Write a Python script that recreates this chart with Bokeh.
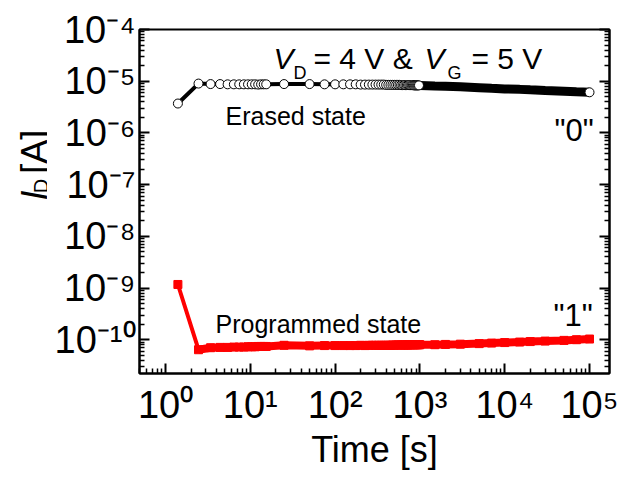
import math
from bokeh.plotting import figure
from bokeh.layouts import row
from bokeh.models import (LogAxis, Label, CustomJSTickFormatter, FixedTicker, Range1d)
from bokeh.embed import file_html
from bokeh.resources import INLINE

# ---------------- data ----------------
time_s = [1.4, 2.45, 3.4, 4.4, 5.4, 6.4, 7.4, 8.4, 9.4, 10.4, 11.4, 12.4, 13.4, 14.4, 15.4,
          25, 50,
          75, 100, 125, 150, 175, 200, 225, 250, 275, 300,
          325, 350, 375, 400, 425, 450, 475, 500, 525, 550,
          575, 600, 625, 650, 675, 700, 725, 750, 775, 800,
          825, 850, 875, 900, 925, 950, 975, 1000,
          1500, 2000, 3000, 5000, 7000, 10000, 15000, 20000, 30000, 50000, 70000, 100000]

erased_A = [3.7e-6, 9.0e-6,
            8.8e-6, 8.8e-6, 8.7e-6, 8.7e-6, 8.7e-6, 8.7e-6, 8.7e-6, 8.7e-6, 8.7e-6, 8.6e-6, 8.7e-6, 8.7e-6, 8.7e-6,
            8.8e-6, 8.8e-6,
            8.7e-6, 8.7e-6, 8.7e-6, 8.7e-6, 8.7e-6, 8.6e-6, 8.6e-6, 8.6e-6, 8.6e-6, 8.6e-6,
            8.6e-6, 8.6e-6, 8.6e-6, 8.5e-6, 8.5e-6, 8.5e-6, 8.5e-6, 8.5e-6, 8.5e-6, 8.5e-6,
            8.5e-6, 8.4e-6, 8.4e-6, 8.4e-6, 8.4e-6, 8.4e-6, 8.4e-6, 8.4e-6, 8.4e-6, 8.4e-6,
            8.4e-6, 8.3e-6, 8.3e-6, 8.3e-6, 8.3e-6, 8.3e-6, 8.3e-6, 8.3e-6,
            8.1e-6, 8.0e-6, 7.8e-6, 7.5e-6, 7.3e-6, 7.1e-6, 6.95e-6, 6.8e-6, 6.6e-6, 6.4e-6, 6.25e-6, 6.1e-6]

programmed_A = [1.17e-9, 6.4e-11,
                7.0e-11, 7.1e-11, 7.1e-11, 7.2e-11, 7.2e-11, 7.2e-11, 7.3e-11, 7.3e-11, 7.3e-11, 7.4e-11, 7.4e-11, 7.4e-11, 7.4e-11,
                7.8e-11, 7.6e-11,
                7.7e-11, 7.7e-11, 7.7e-11, 7.7e-11, 7.7e-11, 7.8e-11, 7.7e-11, 7.8e-11, 7.8e-11, 7.8e-11,
                7.8e-11, 7.8e-11, 7.8e-11, 7.8e-11, 7.8e-11, 7.8e-11, 7.9e-11, 7.8e-11, 7.9e-11, 7.9e-11,
                7.9e-11, 7.9e-11, 7.9e-11, 7.9e-11, 7.9e-11, 7.9e-11, 7.9e-11, 8.0e-11, 7.9e-11, 8.0e-11,
                8.0e-11, 8.0e-11, 8.0e-11, 8.0e-11, 8.0e-11, 8.0e-11, 8.0e-11, 8.0e-11,
                8.0e-11, 8.1e-11, 8.2e-11, 8.4e-11, 8.6e-11, 8.8e-11, 9.0e-11, 9.2e-11, 9.4e-11, 9.7e-11, 1.0e-10, 1.03e-10]

x_ticks = [1, 10, 100, 1000, 10000, 100000]
y_ticks = [1e-10, 1e-9, 1e-8, 1e-7, 1e-6, 1e-5, 1e-4]

# ---------------- layout ----------------
W, H = 619, 479
LW = 47                                  # width of the strip holding the y-axis title
FL, FR, FT, FB = 139, 609, 29, 373       # frame edges in page pixels
x_lo, x_hi = 0.4935, 1.721e5
y_lo, y_hi = 2.22e-11, 1e-4

FONT = "Liberation Sans"

p = figure(width=W - LW, height=H, x_axis_type="log", y_axis_type="log",
           x_range=Range1d(x_lo, x_hi), y_range=Range1d(y_lo, y_hi),
           output_backend="svg", toolbar_location=None,
           min_border_left=FL - LW, min_border_right=W - FR, min_border_top=FT, min_border_bottom=H - FB)
p.xgrid.visible = False
p.ygrid.visible = False
p.outline_line_color = "black"
p.outline_line_width = 2
p.background_fill_color = "white"
p.border_fill_color = "white"

sup_code = """
const m = {"-": "\u207b", "0": "\u2070", "1": "\u00b9", "2": "\u00b2", "3": "\u00b3",
           "4": "\u2074", "5": "\u2075", "6": "\u2076", "7": "\u2077", "8": "\u2078", "9": "\u2079"};
const e = Math.round(Math.log10(tick));
return "10" + String(e).split("").map(c => m[c]).join("");
"""

def minor_list(ticks):
    out = []
    for t in ticks + [ticks[0] / 10]:
        for k in range(2, 10):
            out.append(t * k)
    return out

xt = FixedTicker(ticks=x_ticks, minor_ticks=minor_list(x_ticks))
yt = FixedTicker(ticks=y_ticks, minor_ticks=minor_list(y_ticks))

def style_axis(ax, show_labels=True):
    ax.major_tick_in = 10
    ax.major_tick_out = 0
    ax.minor_tick_in = 5
    ax.minor_tick_out = 0
    ax.axis_line_width = 2
    ax.major_tick_line_width = 2
    ax.minor_tick_line_width = 1.5
    ax.axis_line_color = "black"
    ax.major_tick_line_color = "black"
    ax.minor_tick_line_color = "black"
    ax.major_label_text_font = FONT
    ax.major_label_text_color = "black"
    if show_labels:
        ax.major_label_text_font_size = "38px"
    else:
        ax.major_label_text_font_size = "1px"
        ax.major_label_text_alpha = 0
        ax.major_label_standoff = 0

p.xaxis.ticker = xt
p.yaxis.ticker = yt
p.xaxis.formatter = CustomJSTickFormatter(code=sup_code)
p.yaxis.formatter = CustomJSTickFormatter(code=sup_code)
for ax in p.xaxis + p.yaxis:
    style_axis(ax)
p.xaxis.major_label_standoff = 10
p.yaxis.major_label_standoff = 4
p.xaxis.axis_label = "Time [s]"
p.xaxis.axis_label_text_font = FONT
p.xaxis.axis_label_text_font_size = "36px"
p.xaxis.axis_label_text_font_style = "normal"
p.xaxis.axis_label_text_color = "black"
p.xaxis.axis_label_standoff = 0

ry = LogAxis(ticker=FixedTicker(ticks=y_ticks, minor_ticks=minor_list(y_ticks)),
             formatter=CustomJSTickFormatter(code=sup_code))
style_axis(ry, show_labels=False)
p.add_layout(ry, "right")

# ---------------- series ----------------
k1000 = time_s.index(1000)

# programmed (red)
p.line(time_s, programmed_A, line_color="#ff0000", line_width=4)
p.line(time_s[1:], programmed_A[1:], line_color="#ff0000", line_width=8)
p.scatter(time_s, programmed_A, marker="square", size=8, fill_color="#ff0000", line_color="#ff0000")

# erased (black)
p.line(time_s, erased_A, line_color="black", line_width=4)
p.line(time_s[k1000:], erased_A[k1000:], line_color="black", line_width=9)
p.scatter(time_s[:k1000] + time_s[-1:], erased_A[:k1000] + erased_A[-1:], marker="circle", size=9,
          fill_color="white", line_color="black", line_width=1)

# ---------------- texts inside the plot ----------------
lx0, lx1 = math.log10(x_lo), math.log10(x_hi)
ly0, ly1 = math.log10(y_lo), math.log10(y_hi)

def X(px):
    return 10 ** (lx0 + (px - FL) / (FR - FL) * (lx1 - lx0))

def Y(py):
    return 10 ** (ly1 - (py - FT) / (FB - FT) * (ly1 - ly0))

def lab(px, py, text, size, style="normal"):
    p.add_layout(Label(x=X(px), y=Y(py), text=text, text_font=FONT, text_font_size=size,
                       text_font_style=style, text_color="black", text_align="left",
                       text_baseline="alphabetic"))

lab(273, 58, "V", "30px", "italic")
lab(293, 72, "D", "18px")
lab(313, 58, "= 4 V &", "30px")
lab(424, 58, "V", "30px", "italic")
lab(447, 72, "G", "18px")
lab(471, 58, "= 5 V", "30px")

lab(225, 115, "Erased state", "25px")
lab(215, 323, "Programmed state", "25px")
lab(554, 130, "\"0\"", "31px")
lab(553, 315, "\"1\"", "31px")

# ---------------- y-axis title strip ----------------
t = figure(width=LW, height=H, x_range=Range1d(0, LW), y_range=Range1d(0, H),
           output_backend="svg", toolbar_location=None,
           x_axis_location=None, y_axis_location=None,
           min_border_left=0, min_border_right=0, min_border_top=0, min_border_bottom=0)
t.xgrid.visible = False
t.ygrid.visible = False
t.outline_line_color = None
t.background_fill_color = "white"
t.border_fill_color = "white"

def tlab(px, py, text, size, style="normal"):
    t.add_layout(Label(x=px, y=H - py, text=text, text_font=FONT, text_font_size=size,
                       text_font_style=style, text_color="black", text_align="left",
                       text_baseline="alphabetic", angle=math.pi / 2))

tlab(34, 238, "I", "36px", "italic")
tlab(40, 228, "D", "20px")
tlab(34, 201, "[A]", "36px")

layout = row(t, p, spacing=0)
open("out.html", "w").write(file_html(layout, INLINE))
